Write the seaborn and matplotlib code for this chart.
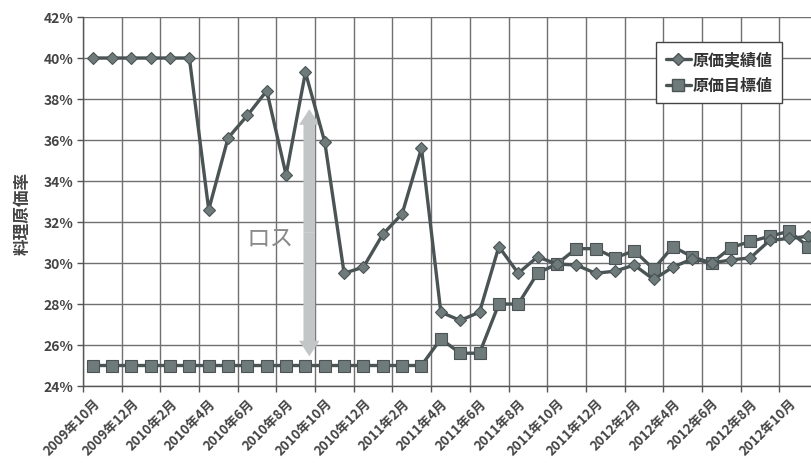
import numpy as np
import pandas as pd
import matplotlib
matplotlib.use("Agg")
import matplotlib.pyplot as plt
import seaborn as sns
from matplotlib.lines import Line2D

# ================== データ ==================
months = [
    "2009年10月", "2009年11月", "2009年12月",
    "2010年1月", "2010年2月", "2010年3月", "2010年4月", "2010年5月", "2010年6月",
    "2010年7月", "2010年8月", "2010年9月", "2010年10月", "2010年11月", "2010年12月",
    "2011年1月", "2011年2月", "2011年3月", "2011年4月", "2011年5月", "2011年6月",
    "2011年7月", "2011年8月", "2011年9月", "2011年10月", "2011年11月", "2011年12月",
    "2012年1月", "2012年2月", "2012年3月", "2012年4月", "2012年5月", "2012年6月",
    "2012年7月", "2012年8月", "2012年9月", "2012年10月", "2012年11月",
]
actual = [
    40.0, 40.0, 40.0, 40.0, 40.0, 40.0, 32.6, 36.1, 37.2, 38.4, 34.3, 39.3, 35.9,
    29.5, 29.8, 31.4, 32.4, 35.6, 27.6, 27.2, 27.6, 30.8, 29.5, 30.3, 29.95,
    29.9, 29.5, 29.6, 29.9, 29.2, 29.8, 30.2, 30.0, 30.15, 30.25, 31.1, 31.2, 31.3,
]
target = [
    25.0, 25.0, 25.0, 25.0, 25.0, 25.0, 25.0, 25.0, 25.0, 25.0, 25.0, 25.0, 25.0,
    25.0, 25.0, 25.0, 25.0, 25.0, 26.3, 25.6, 25.6, 28.0, 28.0, 29.5, 29.95,
    30.7, 30.7, 30.25, 30.6, 29.7, 30.8, 30.3, 30.0, 30.75, 31.05, 31.3, 31.55, 30.8,
]
ACTUAL_LABEL = "原価実績値"
TARGET_LABEL = "原価目標値"
Y_LABEL = "料理原価率"
LOSS_TEXT = "ロス"
# ロス矢印 (カテゴリ位置, 上端, 下端)
loss_x = 11.2
loss_top = 37.5
loss_bottom = 25.45
# ===========================================

LINE_C = "#4b5454"
MARK_FC = "#6f7a7a"
MARK_EC = "#4b5454"

df = pd.DataFrame({"idx": np.arange(len(months)), "月": months,
                   "actual": actual, "target": target})

sns.set_theme(style="whitegrid")
plt.rcParams['font.family'] = ['Noto Sans CJK JP', 'DejaVu Sans']

fig = plt.figure(figsize=(8.11, 4.64), dpi=100)
W, H = 811, 464
ax = fig.add_axes([83 / W, 77 / H, (818 - 83) / W, (446 - 77) / H])

sns.lineplot(data=df, x="idx", y="actual", ax=ax, color=LINE_C, linewidth=2.4,
             marker="D", markersize=6, markerfacecolor=MARK_FC,
             markeredgecolor=MARK_EC, markeredgewidth=0.8, zorder=4)
sns.lineplot(data=df, x="idx", y="target", ax=ax, color=LINE_C, linewidth=2.4,
             marker="s", markersize=8.5, markerfacecolor=MARK_FC,
             markeredgecolor=MARK_EC, markeredgewidth=0.8, zorder=3)

# 軸
ax.set_xlim(-0.5, len(months) - 0.5)
ax.set_ylim(24, 42)
yt = np.arange(24, 43, 2)
ax.set_yticks(yt)
ax.set_yticklabels([f"{v}%" for v in yt], fontsize=10, fontweight="bold", color="#444444")
ax.set_xticks(np.arange(0, len(months), 2))
ax.set_xticklabels(months[::2], rotation=45, ha="right", rotation_mode="anchor",
                   fontsize=9.5, fontweight="bold", color="#444444")
ax.set_xticks(np.arange(-0.5, len(months), 2), minor=True)
ax.grid(False)
ax.grid(True, which="minor", axis="x", color="#707070", linewidth=1.0)
ax.grid(True, which="major", axis="y", color="#707070", linewidth=1.0)
ax.tick_params(axis="x", which="major", length=0, pad=7)
ax.tick_params(axis="x", which="minor", length=4, color="#555555", width=1, bottom=True)
ax.tick_params(axis="y", length=4, color="#555555", width=1, left=True, pad=3)
for s in ["top", "right"]:
    ax.spines[s].set_visible(False)
for s in ["left", "bottom"]:
    ax.spines[s].set_color("#555555")
    ax.spines[s].set_linewidth(1.0)
ax.set_xlabel("")
ax.set_ylabel(Y_LABEL, fontsize=12, fontweight="bold", color="#444444")
ax.yaxis.set_label_coords(-0.07, 0.47)

# ロス矢印
mid = (loss_top + loss_bottom) / 2
for end in (loss_top, loss_bottom):
    ax.annotate("", xy=(loss_x, end), xytext=(loss_x, mid),
                arrowprops=dict(arrowstyle="simple,head_length=0.8,head_width=1.05,tail_width=0.6",
                                fc="#c2c6c6", ec="none", mutation_scale=14,
                                shrinkA=0, shrinkB=0), zorder=2)
ax.text(9.2, 31.2, LOSS_TEXT, fontsize=17, color="#8a8a8a", ha="center", va="center")

# 凡例
handles = [
    Line2D([], [], color=LINE_C, linewidth=2.4, marker="D", markersize=6,
           markerfacecolor=MARK_FC, markeredgecolor=MARK_EC),
    Line2D([], [], color=LINE_C, linewidth=2.4, marker="s", markersize=8.5,
           markerfacecolor=MARK_FC, markeredgecolor=MARK_EC),
]
leg = ax.legend(handles, [ACTUAL_LABEL, TARGET_LABEL], loc="upper left",
                bbox_to_anchor=(648 / W, 1 - 35 / H), bbox_transform=fig.transFigure,
                prop={"weight": "bold", "size": 11.5}, handlelength=1.6, handletextpad=0.1,
                labelspacing=0.6, borderpad=0.6, fancybox=False, framealpha=1)
leg.get_frame().set_edgecolor("#444444")
leg.get_frame().set_linewidth(1.0)
for t in leg.get_texts():
    t.set_color("#333333")

fig.savefig("out.png", dpi=100)
